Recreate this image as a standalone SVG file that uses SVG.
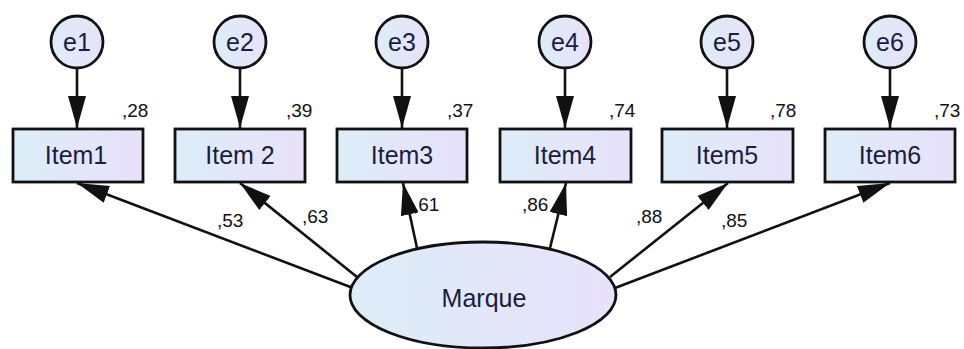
<svg xmlns="http://www.w3.org/2000/svg" width="964" height="349" viewBox="0 0 964 349">
<style>
.node{stroke:#111;stroke-width:2.8}
.lbl{font-family:"Liberation Sans",Arial,sans-serif;font-size:25px;fill:#1c1c44;text-anchor:middle}
.num{font-family:"Liberation Sans",Arial,sans-serif;font-size:19px;fill:#111}
.conn{stroke:#111;stroke-width:2.6;fill:none;marker-end:url(#ah)}
</style>
<defs>
<linearGradient id="g" x1="0" y1="0" x2="1" y2="0">
<stop offset="0" stop-color="#dcedf8"/>
<stop offset="1" stop-color="#e8e2fa"/>
</linearGradient>
<marker id="ah" markerUnits="userSpaceOnUse" markerWidth="33" markerHeight="18" refX="32" refY="9" orient="auto">
<path d="M0,0 L32,9 L0,18 z" fill="#111"/>
</marker>
</defs>
<rect width="964" height="349" fill="#fff"/>
<g id="connectors">
<line class="conn" x1="77" y1="69" x2="77" y2="128"/>
<line class="conn" x1="240" y1="69" x2="240" y2="128"/>
<line class="conn" x1="402" y1="69" x2="402" y2="128"/>
<line class="conn" x1="565" y1="69" x2="565" y2="128"/>
<line class="conn" x1="727" y1="69" x2="727" y2="128"/>
<line class="conn" x1="890" y1="69" x2="890" y2="128"/>
<line class="conn" x1="353" y1="288" x2="77" y2="183"/>
<line class="conn" x1="357" y1="277" x2="240" y2="183"/>
<line class="conn" x1="417" y1="248" x2="403" y2="183"/>
<line class="conn" x1="550" y1="248" x2="566" y2="183"/>
<line class="conn" x1="610" y1="277" x2="728" y2="183"/>
<line class="conn" x1="615" y1="288" x2="890" y2="183"/>
</g>
<g id="e1"><circle class="node" cx="77" cy="42" r="26" fill="url(#g)"/><text class="lbl" x="77" y="51">e1</text></g>
<g id="e2"><circle class="node" cx="240" cy="42" r="26" fill="url(#g)"/><text class="lbl" x="240" y="51">e2</text></g>
<g id="e3"><circle class="node" cx="402" cy="42" r="26" fill="url(#g)"/><text class="lbl" x="402" y="51">e3</text></g>
<g id="e4"><circle class="node" cx="565" cy="42" r="26" fill="url(#g)"/><text class="lbl" x="565" y="51">e4</text></g>
<g id="e5"><circle class="node" cx="727" cy="42" r="26" fill="url(#g)"/><text class="lbl" x="727" y="51">e5</text></g>
<g id="e6"><circle class="node" cx="890" cy="42" r="26" fill="url(#g)"/><text class="lbl" x="890" y="51">e6</text></g>
<g id="item1"><rect class="node" x="13" y="129" width="130" height="53" fill="url(#g)"/><text class="lbl" x="76" y="164">Item1</text></g>
<g id="item2"><rect class="node" x="175" y="129" width="130" height="53" fill="url(#g)"/><text class="lbl" x="240" y="164">Item 2</text></g>
<g id="item3"><rect class="node" x="337" y="129" width="130" height="53" fill="url(#g)"/><text class="lbl" x="402" y="164">Item3</text></g>
<g id="item4"><rect class="node" x="500" y="129" width="131" height="53" fill="url(#g)"/><text class="lbl" x="565" y="164">Item4</text></g>
<g id="item5"><rect class="node" x="662" y="129" width="131" height="53" fill="url(#g)"/><text class="lbl" x="727" y="164">Item5</text></g>
<g id="item6"><rect class="node" x="825" y="129" width="130" height="53" fill="url(#g)"/><text class="lbl" x="890" y="164">Item6</text></g>
<g id="marque"><ellipse class="node" cx="483" cy="295" rx="133" ry="53" fill="url(#g)"/><text class="lbl" x="484" y="307">Marque</text></g>
<g id="labels">
<text class="num" x="122" y="117">,28</text>
<text class="num" x="286" y="117">,39</text>
<text class="num" x="447" y="117">,37</text>
<text class="num" x="609" y="117">,74</text>
<text class="num" x="770" y="117">,78</text>
<text class="num" x="934" y="117">,73</text>
<text class="num" x="217" y="227">,53</text>
<text class="num" x="302" y="223">,63</text>
<text class="num" x="413" y="211">,61</text>
<text class="num" x="522" y="211">,86</text>
<text class="num" x="636" y="223">,88</text>
<text class="num" x="721" y="227">,85</text>
</g>
</svg>
